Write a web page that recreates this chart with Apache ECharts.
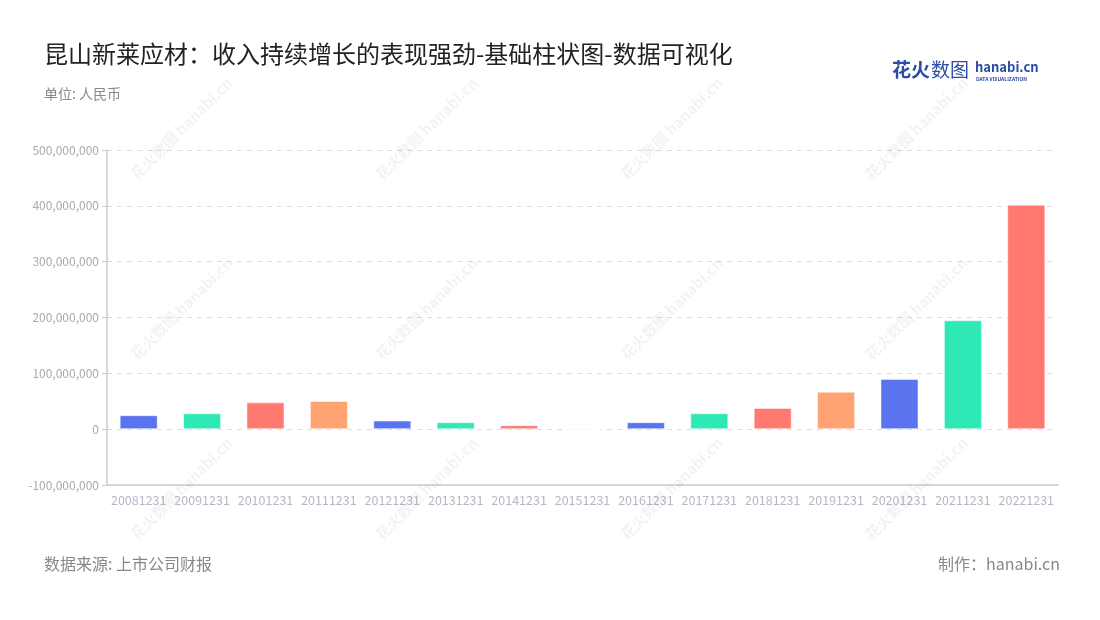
<!DOCTYPE html>
<html>
<head>
<meta charset="utf-8">
<script src="https://cdn.jsdelivr.net/npm/echarts@6/dist/echarts.min.js"></script>
<style>html,body{margin:0;padding:0;background:#fff;}#c{width:1100px;height:620px;}</style>
</head>
<body>
<div id="c"></div>
<script>
const categories = ['20081231','20091231','20101231','20111231','20121231','20131231','20141231','20151231','20161231','20171231','20181231','20191231','20201231','20211231','20221231'];
const revenue = [25000000, 28500000, 48000000, 50500000, 15500000, 12500000, 7000000, -1500000, 12500000, 28500000, 38000000, 67000000, 90000000, 195000000, 402000000];
const palette = ['#5A73EE', '#2EE8B5', '#FF7971', '#FFA373'];
const titleText = '昆山新莱应材：收入持续增长的表现强劲-基础柱状图-数据可视化';
const unitText = '单位: 人民币';
const sourceText = '数据来源: 上市公司财报';
const makerText = '制作：hanabi.cn';

const FONT = '"Noto Sans CJK SC","Noto Sans",sans-serif';
const chart = echarts.init(document.getElementById('c'), null, {renderer: 'canvas'});

const wm = [];
const wmX = [133, 378, 623, 868];
const wmY = [177, 357, 537];
wmX.forEach(x => wmY.forEach(y => {
  wm.push({
    type: 'text', x: x, y: y, rotation: Math.PI / 4, z: 100, silent: true,
    style: {text: '花火数图 hanabi.cn', fill: 'rgba(0,0,0,0.05)', font: 'bold 15px ' + FONT, textVerticalAlign: 'middle'}
  });
}));

chart.setOption({
  backgroundColor: '#fff',
  animation: false,
  grid: {left: 107, right: 42, top: 150, bottom: 135},
  xAxis: {
    type: 'category', data: categories,
    axisLine: {onZero: false, lineStyle: {color: '#ccc', width: 1.5}},
    axisTick: {alignWithLabel: true, lineStyle: {color: '#ccc'}},
    axisLabel: {color: '#b4b8c6', fontSize: 12.5, fontFamily: FONT, margin: 9, interval: 0}
  },
  yAxis: {
    type: 'value', min: -100000000, max: 500000000, interval: 100000000,
    axisLine: {show: true, lineStyle: {color: '#ccc', width: 1.5}},
    axisTick: {show: true, lineStyle: {color: '#ccc'}},
    axisLabel: {color: '#aaa', fontSize: 12, fontFamily: FONT,
      formatter: v => v.toLocaleString('en-US')},
    splitLine: {lineStyle: {type: [5, 5], color: '#ddd'}}
  },
  series: [{
    type: 'bar', barWidth: '60%', barMinHeight: 1,
    data: revenue.map((v, i) => ({value: v, itemStyle: {color: palette[i % 4]}})),
    itemStyle: {borderColor: 'rgba(255,255,255,0.5)', borderWidth: 1}
  }],
  graphic: [
    {type: 'text', left: 44, top: 42, style: {text: titleText, fill: '#222', font: '400 24px ' + FONT}},
    {type: 'text', left: 44, top: 87, style: {text: unitText, fill: '#888', font: '14px ' + FONT}},
    {type: 'text', left: 44, top: 556, style: {text: sourceText, fill: '#888', font: '16px ' + FONT}},
    {type: 'text', right: 40, top: 556, style: {text: makerText, fill: '#888', font: '16px ' + FONT}},
    {type: 'text', left: 892, top: 60, style: {text: '花火', fill: '#2B4CA8', font: 'bold 19px ' + FONT}},
    {type: 'text', left: 931, top: 60, style: {text: '数图', fill: '#2B4CA8', font: '19px ' + FONT}},
    {type: 'text', left: 975, top: 61, style: {text: 'hanabi.cn', fill: '#2B4CA8', font: 'bold 13px ' + FONT}},
    {type: 'text', left: 976, top: 77, style: {text: 'DATA VISUALIZATION', fill: '#2B4CA8', font: 'bold 5px ' + FONT}}
  ].concat(wm)
});
</script>
</body>
</html>
